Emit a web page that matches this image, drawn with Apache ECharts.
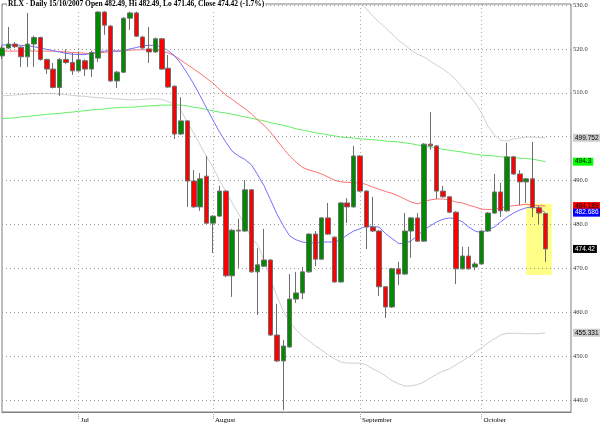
<!DOCTYPE html>
<html><head><meta charset="utf-8">
<script src="https://cdn.jsdelivr.net/npm/echarts@6/dist/echarts.min.js"></script>
<style>html,body{margin:0;padding:0;background:#fff}#c{width:600px;height:428px}</style>
</head><body><div id="c"></div>
<script>
const dates = [
'2007-06-14','2007-06-15','2007-06-18','2007-06-19','2007-06-20','2007-06-21','2007-06-22','2007-06-25','2007-06-26','2007-06-27','2007-06-28','2007-06-29',
'2007-07-02','2007-07-03','2007-07-05','2007-07-06','2007-07-09','2007-07-10','2007-07-11','2007-07-12','2007-07-13','2007-07-16','2007-07-17','2007-07-18','2007-07-19','2007-07-20','2007-07-23','2007-07-24','2007-07-25','2007-07-26','2007-07-27','2007-07-30','2007-07-31',
'2007-08-01','2007-08-02','2007-08-03','2007-08-06','2007-08-07','2007-08-08','2007-08-09','2007-08-10','2007-08-13','2007-08-14','2007-08-15','2007-08-16','2007-08-17','2007-08-20','2007-08-21','2007-08-22','2007-08-23','2007-08-24','2007-08-27','2007-08-28','2007-08-29','2007-08-30','2007-08-31',
'2007-09-04','2007-09-05','2007-09-06','2007-09-07','2007-09-10','2007-09-11','2007-09-12','2007-09-13','2007-09-14','2007-09-17','2007-09-18','2007-09-19','2007-09-20','2007-09-21','2007-09-24','2007-09-25','2007-09-26','2007-09-27','2007-09-28',
'2007-10-01','2007-10-02','2007-10-03','2007-10-04','2007-10-05','2007-10-08','2007-10-09','2007-10-10','2007-10-11','2007-10-12','2007-10-15',
'2007-10-16','2007-10-17','2007-10-18','2007-10-19'];
const monthLabels = {'07':'Jul','08':'August','09':'September','10':'October'};
const yTicks = [440,450,460,470,480,490,500,510,520,530];

const openP = [518.4,520.2,521.1,520.4,518.2,521.1,522.6,517.6,515.4,511.2,517.6,516.9,515.0,517.3,515.4,517.9,528.4,525.2,512.7,514.7,527.0,528.2,522.7,520.0,519.3,522.3,515.6,511.5,500.6,503.6,489.9,484.0,491.0,480.3,481.9,487.6,468.3,478.7,478.5,487.9,469.2,470.5,471.9,454.8,448.9,452.1,463.0,464.4,469.2,477.8,472.1,481.5,477.1,466.9,484.9,484.0,495.6,487.6,479.4,478.5,465.8,461.2,469.9,468.7,478.5,481.5,476.2,498.3,497.9,487.6,486.3,482.8,469.9,472.8,470.3,471.0,478.5,482.6,487.4,483.1,495.4,491.5,489.7,490.4,483.8,482.49];
const closeP = [520.2,521.1,520.5,518.2,521.1,522.6,517.6,515.4,511.2,517.6,516.9,515.0,517.5,515.4,519.2,528.4,525.4,512.7,514.7,527.0,528.2,522.9,520.2,519.3,522.3,515.4,511.3,500.6,503.6,489.9,484.0,490.4,480.3,481.9,487.6,468.3,478.7,478.5,487.9,469.2,470.8,471.9,454.8,448.9,452.3,463.0,464.4,469.2,477.8,472.1,481.5,477.8,466.9,484.9,484.0,495.6,487.6,479.4,478.5,465.8,461.2,469.9,468.7,478.5,481.5,476.2,498.3,497.9,487.6,486.3,482.8,469.9,472.8,469.9,471.0,478.5,482.6,487.4,483.1,495.4,491.5,489.7,490.4,483.8,482.6,474.42];
const lowP = [517.7,520.0,520.2,515.9,515.9,515.9,517.3,514.3,511.0,509.3,516.5,514.1,514.8,513.8,513.6,517.0,523.2,512.5,511.1,514.5,524.3,522.7,520.0,516.8,519.1,515.2,511.1,499.5,500.4,484.0,483.8,483.1,480.0,473.5,481.7,468.0,463.5,470.1,478.3,469.0,459.4,470.3,454.6,448.7,437.7,451.9,462.1,463.0,469.0,470.5,471.9,477.6,466.7,466.7,480.3,483.8,487.4,474.4,478.3,463.7,458.7,461.0,466.2,468.5,472.4,476.0,476.0,497.0,485.8,486.1,482.6,466.4,469.7,469.7,469.6,470.8,478.3,482.4,481.7,482.9,491.3,484.4,484.9,481.7,480.1,471.46];
const highP = [520.8,525.0,521.5,520.6,528.2,523.0,522.8,517.8,516.8,517.9,519.9,519.1,519.4,517.6,519.6,528.6,528.6,525.4,515.0,527.2,528.5,528.5,523.0,525.0,522.6,522.5,518.6,511.7,509.0,503.8,492.4,491.7,495.6,482.1,488.8,487.8,479.0,481.3,490.1,488.1,474.6,479.0,472.1,461.9,453.7,468.7,469.2,470.3,478.0,478.5,481.7,484.9,477.3,485.1,486.0,497.9,495.8,487.8,486.3,478.7,466.0,470.1,471.5,482.6,481.7,482.6,498.5,505.6,498.1,488.8,486.5,483.0,474.9,474.9,471.5,478.7,482.8,491.5,489.5,498.6,495.6,492.4,490.6,498.8,484.2,482.49];

const maBlue = [520.9,520.9,520.9,520.8,520.7,520.5,520.2,519.9,519.6,519.3,519.0,518.8,518.7,518.7,519.0,519.3,519.5,519.6,519.5,519.5,520.0,520.3,520.7,520.8,520.8,520.5,519.6,518.4,516.6,514.4,512.0,509.3,506.5,503.8,501.1,498.8,496.7,495.6,494.8,493.6,491.3,488.8,485.6,482.4,479.7,477.4,476.5,476.0,475.8,475.8,476.0,476.0,476.0,476.5,477.6,478.5,479.0,479.7,479.5,479.4,477.9,476.8,475.7,475.6,476.3,477.4,478.8,479.7,480.6,481.2,481.5,481.3,480.6,479.4,478.5,478.1,478.8,479.4,480.6,481.7,482.6,483.3,483.8,484.0,483.6,482.686];
const maRed = [519.5,519.5,519.5,519.5,519.5,519.5,519.5,519.5,519.5,519.4,519.3,519.2,519.1,519.0,518.9,519.1,519.2,519.4,519.5,519.6,519.7,519.8,519.8,519.8,519.7,519.5,519.1,518.4,517.4,516.4,515.4,514.4,513.3,512.2,510.8,509.5,508.5,507.4,506.4,505.2,503.8,502.6,501.0,499.2,497.3,495.6,494.2,493.0,492.4,492.0,491.5,490.8,490.1,489.7,489.6,489.5,489.5,489.1,488.5,488.0,487.5,487.1,486.5,485.8,485.1,484.7,485.2,485.6,485.8,485.8,485.6,485.1,484.9,484.4,484.0,483.5,483.4,483.5,483.8,484.0,484.3,484.4,484.6,484.4,484.3,484.189];
const maGreen = [504.1,504.2,504.3,504.5,504.6,504.8,504.9,505.1,505.2,505.3,505.5,505.6,505.8,505.9,506.1,506.2,506.3,506.5,506.6,506.7,506.7,506.8,506.9,507.0,507.1,507.2,507.2,507.2,507.2,507.0,506.7,506.5,506.2,505.9,505.6,505.4,505.1,504.8,504.5,504.2,503.9,503.6,503.2,502.9,502.6,502.2,501.8,501.5,501.2,500.9,500.7,500.4,500.2,499.9,499.8,499.7,499.5,499.4,499.3,499.2,499.0,498.9,498.8,498.6,498.4,498.1,497.9,497.6,497.4,497.1,496.9,496.7,496.5,496.2,496.0,495.8,495.7,495.6,495.4,495.3,495.2,495.1,495.0,494.9,494.6,494.3];
const bbUpper = [null,null,null,null,null,null,null,null,null,null,null,null,null,null,null,null,null,null,null,null,null,null,null,null,null,null,null,null,null,null,null,null,null,null,null,null,null,null,null,null,null,null,null,null,null,null,null,null,null,null,null,null,null,null,null,531.8,530.7,529.1,527.5,526.1,524.8,523.4,522.0,520.9,519.7,518.8,518.2,517.2,516.3,515.4,514.3,512.9,511.3,509.5,507.7,505.4,502.4,500.4,499.2,499.0,499.5,499.7,499.9,499.9,499.8,499.752];
const bbLower = [509.3,509.4,509.5,509.6,509.7,509.8,509.8,509.9,509.8,509.7,509.6,509.4,509.3,509.2,509.0,508.9,508.8,508.7,508.6,508.5,508.4,508.4,508.5,508.6,508.6,508.5,508.0,507.4,505.9,503.3,500.8,498.1,495.4,493.1,490.1,487.6,484.9,482.4,479.9,477.1,475.3,471.9,467.4,463.7,460.3,457.8,456.0,454.6,453.5,452.3,451.4,450.3,449.4,448.7,448.4,448.4,448.4,448.0,447.1,446.4,445.5,444.4,443.7,443.2,443.2,443.5,444.1,445.0,445.9,446.6,447.1,448.0,448.9,449.8,450.9,451.9,453.0,453.9,454.8,455.2,455.2,455.2,455.1,455.1,455.1,455.331];
const highlight = {x0: 82.3, x1: 86.4, yTop: 484.7, yBottom: 468.5};

const last = a => a[a.length - 1];
const isMonthStart = i => i > 0 && i < openP.length && dates[i].slice(5,7) !== dates[i-1].slice(5,7);
const candles = dates.map((d, i) => i < openP.length ? [openP[i], closeP[i], lowP[i], highP[i]] : '-');
function tag(value, bg, fg) {
  return {yAxis: value,
    label: {show: true, position: 'end', distance: 2, formatter: String(value), backgroundColor: bg, color: fg,
      fontSize: 6.5, fontFamily: 'Liberation Sans', padding: [1, 2, 0, 2], lineHeight: 7}};
}
const lineSeries = (name, data, color) => ({
  name, type: 'line', data, showSymbol: false, symbol: 'none', connectNulls: false,
  lineStyle: {color, width: 1}, z: 2, silent: true
});

const chart = echarts.init(document.getElementById('c'), null, {renderer: 'canvas'});
chart.setOption({
  animation: false,
  backgroundColor: '#fff',
  title: {
    text: 'RLX - Daily 15/10/2007 Open 482.49, Hi 482.49, Lo 471.46, Close 474.42 (-1.7%)',
    left: 7, top: 0, padding: [0, 1],
    backgroundColor: '#fff',
    textStyle: {fontFamily: 'Liberation Serif', fontWeight: 'bold', fontSize: 7.5, color: '#000', lineHeight: 9}
  },
  grid: {left: 2, right: 29, top: 4, bottom: 16, show: true, borderColor: '#7f7f7f', borderWidth: 1, backgroundColor: 'transparent'},
  xAxis: {
    type: 'category', data: dates, boundaryGap: false,
    axisLine: {show: true, lineStyle: {color: '#7f7f7f'}},
    axisTick: {show: true, interval: (i) => isMonthStart(i), length: 7, lineStyle: {color: '#aaa', type: 'dotted'}},
    axisLabel: {show: true, interval: (i) => isMonthStart(i), formatter: (v) => monthLabels[v.slice(5,7)] || '',
      align: 'left', margin: 5, padding: [0,0,0,2], fontSize: 7, fontFamily: 'Liberation Serif', color: '#000'},
    splitLine: {show: true, interval: (i) => isMonthStart(i), lineStyle: {color: '#aaa', type: [1, 3], width: 1}}
  },
  yAxis: {type: 'value', position: 'right', min: 437.27, max: 530.23, scale: true,
    axisLine: {show: false}, axisTick: {show: false}, axisLabel: {show: false}, splitLine: {show: false}},
  series: [
    {type: 'line', data: [], silent: true, z: 1,
      markLine: {symbol: 'none', silent: true, animation: false,
        lineStyle: {color: '#999', type: [1, 3], width: 1},
        label: {position: 'end', distance: 2, formatter: (p) => p.value.toFixed(1), fontSize: 6.5, fontFamily: 'Liberation Serif', color: '#333'},
        data: yTicks.map(v => ({yAxis: v}))},
      markArea: {silent: true, itemStyle: {color: '#ffff88', opacity: 1},
        data: [[{xAxis: highlight.x0, yAxis: highlight.yTop}, {xAxis: highlight.x1, yAxis: highlight.yBottom}]]}
    },
    lineSeries('Upper BB', bbUpper, '#cfcfcf'),
    lineSeries('Lower BB', bbLower, '#cfcfcf'),
    lineSeries('MA200', maGreen, '#66ee66'),
    lineSeries('MA50', maRed, '#ff7070'),
    lineSeries('MA20', maBlue, '#7070ff'),
    {type: 'candlestick', data: candles, barWidth: 5, z: 5, silent: true,
      itemStyle: {color: '#008a00', color0: '#ff0000', borderColor: '#6e6e6e', borderColor0: '#6e6e6e', borderWidth: 1}},
    {type: 'line', data: [], silent: true, z: 10,
      markLine: {symbol: 'none', silent: true, animation: false,
        lineStyle: {color: 'rgba(0,0,0,0)', width: 0},
        data: [
          tag(last(bbUpper), '#cccccc', '#000'),
          tag(last(maGreen), '#00ff00', '#000'),
          tag(last(maRed), '#ff0000', '#000'),
          tag(last(maBlue), '#0000ff', '#fff'),
          tag(last(closeP), '#000000', '#fff'),
          tag(last(bbLower), '#cccccc', '#000')
        ]}
    }
  ]
});
</script></body></html>
